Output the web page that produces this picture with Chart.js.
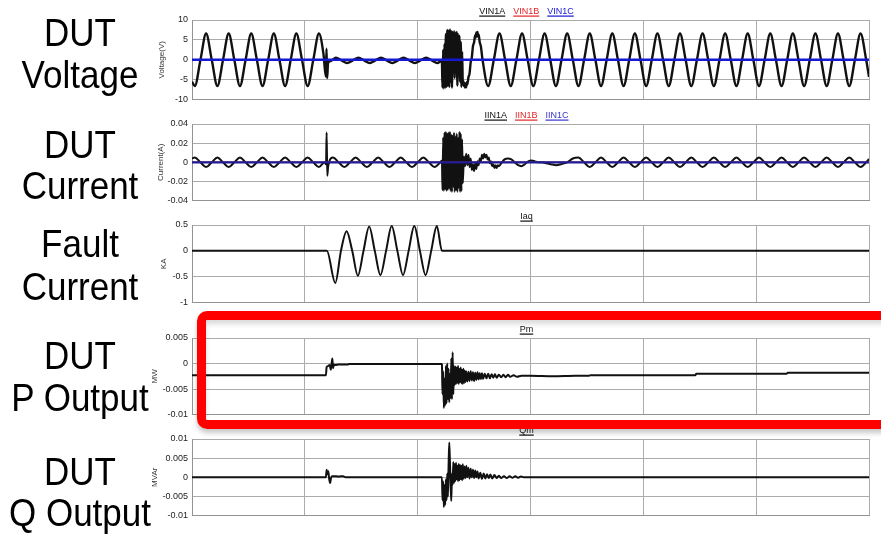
<!DOCTYPE html>
<html>
<head>
<meta charset="utf-8">
<script src="https://cdn.jsdelivr.net/npm/chart.js@4.4.1/dist/chart.umd.min.js"></script>
<style>
  html, body { margin: 0; padding: 0; }
  body { width: 881px; height: 534px; overflow: hidden; background: #fff; position: relative;
         font-family: "Liberation Sans", Arial, sans-serif; }
  .lbl { position: absolute; left: 0; width: 160px; text-align: center; font-size: 35px; line-height: 35px;
         color: #000; transform: scaleY(1.13); transform-origin: 50% 0; white-space: nowrap; }
  canvas { position: absolute; left: 150px; }
  #redBox { position: absolute; left: 197px; top: 311px; width: 720px; height: 100px;
            border: 9px solid #ff0000; border-radius: 10px;
            box-shadow: 0 4px 5px rgba(0,0,0,0.22), inset 0 4px 5px rgba(0,0,0,0.15); }
</style>
</head>
<body>
<div id="redBox"></div>
<script>
// time axis in ms, one grid division = 100 ms
const gridTimes = [0, 100, 200, 300, 400, 500, 600];
const voltTicks = [-10, -5, 0, 5, 10];
const currTicks = [-0.04, -0.02, 0, 0.02, 0.04];
const faultTicks = [-1, -0.5, 0, 0.5];
const pTicks = [-0.01, -0.005, 0, 0.005];
const qTicks = [-0.01, -0.005, 0, 0.005, 0.01];

const rowLabels = [["DUT", "Voltage"], ["DUT", "Current"], ["Fault", "Current"], ["DUT", "P Output"], ["DUT", "Q Output"]];

// DUT voltage, phase A [ms, V]
const vin1a = [[0,-5.5],[2.5,-6.6],[7.5,0],[12.5,6.6],[17.5,0],[22.5,-6.6],[27.5,0],[32.5,6.6],[37.5,0],[42.5,-6.6],[47.5,0],[52.5,6.6],[57.5,0],[62.5,-6.6],[67.5,0],[72.5,6.6],[77.5,0],[82.5,-6.6],[87.5,0],[92.5,6.6],[97.5,0],[102.5,-6.6],[107.5,0],[112.5,6.6],
  [116.5,1.5],[118.6,-4.2],[119.2,2.8],[119.8,-4.6],[120.6,-0.8],[123,-0.3],[127.5,0.5],[132.5,-0.15],[137.5,-0.8],[142.5,-0.15],[147.5,0.5],[152.5,-0.15],[157.5,-0.8],[162.5,-0.15],[167.5,0.5],[172.5,-0.15],[177.5,-0.8],[182.5,-0.15],[187.5,0.5],[192.5,-0.15],[197.5,-0.8],[202.5,-0.15],[207.5,0.5],[212.5,-0.15],[217.5,-0.8],[221,-0.3],
  [221.5,-0.5],[222,-7.0],[222.6,2.5],[223.2,-7.2],[223.8,4.0],[224.4,-7.0],[225,6.5],[225.6,-6.8],[226.2,7.5],[226.8,-6.5],[227.4,7.3],[228,-6.8],[228.6,7.6],[229.2,-5.5],[229.8,7.2],[230.4,-7.0],[231,7.0],[231.6,-2.0],[232.2,7.2],[232.8,-4.5],[233.4,6.8],[234,-1.0],[234.6,7.0],[235.2,-6.5],[235.8,6.5],[236.4,-3.0],[237,6.0],[237.6,-5.5],[238.2,4.5],[238.8,-6.8],[239.4,2.0],[240,-6.0],
  [240.5,-5.4],[241,-6.6],[241.5,-5.8],[242,-7.0],[242.5,-6.0],[243,-6.9],[243.5,-5.6],[244,-6.2],[245,-4.4],[246,-3.4],[247,-0.6],[248,0.6],[249,3.4],[250,4.4],[251,6.2],[251.5,5.6],[252,6.9],[252.5,6.0],[253,7.0],[253.5,5.8],[254,6.4],[255,4.4],[256,3.4],
  [257.5,0],[262.5,-6.6],[267.5,0],[272.5,6.6],[277.5,0],[282.5,-6.6],[287.5,0],[292.5,6.6],[297.5,0],[302.5,-6.6],[307.5,0],[312.5,6.6],[317.5,0],[322.5,-6.6],[327.5,0],[332.5,6.6],[337.5,0],[342.5,-6.6],[347.5,0],[352.5,6.6],[357.5,0],[362.5,-6.6],[367.5,0],[372.5,6.6],[377.5,0],[382.5,-6.6],[387.5,0],[392.5,6.6],[397.5,0],[402.5,-6.6],[407.5,0],[412.5,6.6],[417.5,0],[422.5,-6.6],[427.5,0],[432.5,6.6],[437.5,0],[442.5,-6.6],[447.5,0],[452.5,6.6],[457.5,0],[462.5,-6.6],[467.5,0],[472.5,6.6],[477.5,0],[482.5,-6.6],[487.5,0],[492.5,6.6],[497.5,0],[502.5,-6.6],[507.5,0],[512.5,6.6],[517.5,0],[522.5,-6.6],[527.5,0],[532.5,6.6],[537.5,0],[542.5,-6.6],[547.5,0],[552.5,6.6],[557.5,0],[562.5,-6.6],[567.5,0],[572.5,6.6],[577.5,0],[582.5,-6.6],[587.5,0],[592.5,6.6],[597.5,0],[600,-4.3]];
const vin1b = [[0,0],[600,0]];
const vin1c = [[0,0],[600,0]];

// DUT current, phase A [ms, A]
const iin1a = [[0,0.004],[2.5,0.005],[7.5,0],[12.5,-0.005],[17.5,0],[22.5,0.005],[27.5,0],[32.5,-0.005],[37.5,0],[42.5,0.005],[47.5,0],[52.5,-0.005],[57.5,0],[62.5,0.005],[67.5,0],[72.5,-0.005],[77.5,0],[82.5,0.005],[87.5,0],[92.5,-0.005],[97.5,0],[102.5,0.005],[107.5,0],[112.5,-0.005],[117.5,0],
  [118.8,-0.002],[119.3,0.031],[119.9,-0.014],[120.7,-0.004],[125,0.005],[130,0],[135,-0.005],[140,0],[145,0.005],[150,0],[155,-0.005],[160,0],[165,0.005],[170,0],[175,-0.005],[180,0],[185,0.005],[190,0],[195,-0.005],[200,0],[205,0.005],[210,0],[215,-0.005],[220,0],
  [221.5,0.002],[222,-0.029],[222.6,0.026],[223.2,-0.030],[223.8,0.031],[224.4,-0.028],[225,0.032],[225.6,-0.030],[226.2,0.030],[226.8,-0.029],[227.4,0.031],[228,-0.027],[228.6,0.032],[229.2,-0.030],[229.8,0.029],[230.4,-0.031],[231,0.028],[231.6,-0.026],[232.2,0.031],[232.8,-0.031],[233.4,0.027],[234,-0.029],[234.6,0.030],[235.2,-0.031],[235.8,0.026],[236.4,-0.027],[237,0.032],[237.6,-0.031],[238.2,0.030],[238.8,-0.030],[239.4,0.024],[240,-0.022],
  [241,0.006],[242,-0.004],[243,0.009],[244,-0.003],[245,0.008],[246,-0.005],[247,0.004],[248,-0.008],[249,-0.002],[250,-0.009],[251,-0.001],[252,-0.007],[253,0.001],[254,-0.003],[255,0.004],[256,0.001],[257,0.008],[258,0.004],[259,0.009],[260,0.005],[261,0.008],[262,0.003],[263,0.005],[264,-0.001],[265,0.001],[266,-0.004],[267,-0.002],[268,-0.006],[269,-0.003],[270,-0.006],[271,-0.003],[272,-0.004],
  [274,-0.001],[277,0.003],[280,0.004],[283,0.003],[286,0],[289,-0.003],[292,-0.004],[295,-0.002],[298,0.001],[301,0.002],[304,0.001],[307,0],[310,0],[314,-0.001],[318,-0.002],[323,-0.003],[327,-0.002],[332.5,0],[337.5,0.004],
  [342.5,0.005],[347.5,0],[352.5,-0.005],[357.5,0],[362.5,0.005],[367.5,0],[372.5,-0.005],[377.5,0],[382.5,0.005],[387.5,0],[392.5,-0.005],[397.5,0],[402.5,0.005],[407.5,0],[412.5,-0.005],[417.5,0],[422.5,0.005],[427.5,0],[432.5,-0.005],[437.5,0],[442.5,0.005],[447.5,0],[452.5,-0.005],[457.5,0],[462.5,0.005],[467.5,0],[472.5,-0.005],[477.5,0],[482.5,0.005],[487.5,0],[492.5,-0.005],[497.5,0],[502.5,0.005],[507.5,0],[512.5,-0.005],[517.5,0],[522.5,0.005],[527.5,0],[532.5,-0.005],[537.5,0],[542.5,0.005],[547.5,0],[552.5,-0.005],[557.5,0],[562.5,0.005],[567.5,0],[572.5,-0.005],[577.5,0],[582.5,0.005],[587.5,0],[592.5,-0.005],[597.5,0],[600,0.0035]];
const iin1b = [[0,0],[600,0]];
const iin1c = [[0,0],[600,0]];

// fault current [ms, kA]
const iaq = [[0,0],[119.5,0],[127,-0.62],[132,0],[137,0.38],[142,0],[147,-0.48],[152,0],[157,0.47],[162,0],[167,-0.47],[172,0],[177,0.48],[182,0],[187,-0.47],[192,0],[197,0.48],[202,0],[207,-0.47],[212,0],[217,0.48],[221.5,0],[600,0]];

// active power [ms, MW]
const pm = [[0,-0.0023],[118.7,-0.0023],[119.3,-0.0007],[120.5,-0.0005],[122,-0.0003],[123,-0.0012],[123.8,0.0001],[124.4,0.0010],[125,-0.0009],[125.8,-0.0002],[127,-0.0003],[130,-0.0002],[138,-0.0002],[139,-0.0001],[221,-0.0001],
  [221.5,-0.0002],[222,-0.0060],[222.6,-0.0015],[223.2,-0.0087],[223.8,-0.0030],[224.4,-0.0082],[225,-0.0005],[225.6,-0.0078],[226.2,0],[226.8,-0.0070],[227.4,-0.0010],[228,-0.0076],[228.6,-0.0020],[229.2,-0.0068],[229.8,0.0010],[230.4,-0.0070],[231,0.0022],[231.6,-0.0060],[232.2,-0.0005],[232.8,-0.0042],[233.4,-0.0006],[234,-0.0040],[234.6,-0.0008],[235.2,-0.0038],[235.8,-0.0005],[236.4,-0.0040],[237,-0.0010],[237.6,-0.0036],[238.2,-0.0008],[238.8,-0.0039],[239.4,-0.0012],[240,-0.0040],[240.6,-0.0010],[241.2,-0.0038],[241.8,-0.0014],[242.4,-0.0036],[243,-0.0015],
  [244,-0.0035],[245,-0.0016],[246,-0.0034],[247,-0.0015],[248,-0.0033],[249,-0.0017],[250,-0.0034],[251,-0.0018],[252,-0.0032],[253,-0.0017],[254,-0.0031],[255,-0.0019],[256,-0.0030],[257,-0.0019],[258,-0.0030],[259.5,-0.0020],[261,-0.0029],[262.5,-0.0020],[264,-0.0029],[265.5,-0.0021],[267,-0.0028],[268.5,-0.0021],[270,-0.0028],[272,-0.0022],[274,-0.0027],[276,-0.0022],[278,-0.0027],[280,-0.0022],[282,-0.0026],[285,-0.0023],[288,-0.0026],[292,-0.0024],[300,-0.0024],[320,-0.0025],[340,-0.0024],[352,-0.0024],[353,-0.0023],[446,-0.0023],[447,-0.0020],[527,-0.0020],[528,-0.0018],[600,-0.0018]];

// reactive power [ms, MVAr]
const qm = [[0,0],[118.7,0],[119.3,0.0020],[120,0.0008],[120.8,0.0016],[121.6,-0.0005],[122.4,-0.0015],[123.2,-0.0002],[124,0.0003],[126,0.0003],[130,0.0002],[134,0.0003],[136,0],[221,0],
  [221.5,0],[222,-0.0060],[222.6,-0.0010],[223.2,-0.0078],[223.8,-0.0020],[224.4,-0.0072],[225,-0.0005],[225.6,-0.0060],[226.2,0.0010],[226.8,-0.0050],[227.4,0.0030],[228,0.0091],[228.6,0.0040],[229.2,-0.0020],[229.8,-0.0062],[230.4,0.0010],[231,-0.0020],[231.6,0.0040],[232.2,-0.0015],[232.8,0.0035],[233.4,-0.0010],[234,0.0038],[234.6,-0.0005],[235.2,0.0030],[235.8,-0.0010],[236.4,0.0035],[237,-0.0008],[237.6,0.0032],[238.2,-0.0005],[238.8,0.0030],[239.4,-0.0008],[240,0.0034],
  [240.8,-0.0004],[241.6,0.0028],[242.4,-0.0002],[243.2,0.0030],[244,0],[245,0.0025],[246,-0.0003],[247,0.0022],[248,0],[249,0.0020],[250,-0.0002],[251,0.0018],[252,0],[253,0.0015],[254,-0.0003],[255.5,0.0012],[257,-0.0004],[258.5,0.0010],[260,-0.0003],[261.5,0.0008],[263,-0.0002],[264.5,0.0007],[266,-0.0003],[268,0.0006],[270,-0.0002],[272,0.0004],[274,-0.0002],[276.5,0.0003],[279,-0.0002],[281.5,0.0003],[284,-0.0001],[286.5,0.0003],[289,-0.0001],[291.5,0.0002],[294,0],[600,0]];

Chart.defaults.font.family = '"Liberation Sans", Arial, sans-serif';

// left row labels (one div per line)
const labelTops = [[12, 54], [124, 165], [223, 266], [335, 377], [451, 492]];
rowLabels.forEach((pair, r) => {
    pair.forEach((txt, k) => {
        const d = document.createElement("div");
        d.className = "lbl";
        d.style.top = labelTops[r][k] + "px";
        d.textContent = txt;
        document.body.appendChild(d);
    });
});

// underlined series names above each panel
const seriesTitles = {
    id: "seriesTitles",
    afterDraw(chart) {
        const { ctx, chartArea } = chart;
        const sets = chart.data.datasets;
        ctx.save();
        ctx.font = '9px "Liberation Sans", Arial, sans-serif';
        ctx.textBaseline = "alphabetic";
        const gap = 8;
        const widths = sets.map(d => ctx.measureText(d.label).width);
        const total = widths.reduce((a, b) => a + b, 0) + gap * (sets.length - 1);
        let x = (chartArea.left + chartArea.right) / 2 - 4 - total / 2;
        const y = chartArea.top - 6;
        sets.forEach((d, i) => {
            ctx.fillStyle = d.titleColor;
            ctx.fillText(d.label, x, y);
            ctx.fillRect(x, y + 1.5, widths[i], 1.2);
            x += widths[i] + gap;
        });
        ctx.restore();
    }
};

function makePanel(p) {
    const cv = document.createElement("canvas");
    cv.width = 731;
    cv.height = p.bottom - p.top + 24;
    cv.style.top = (p.top - 16) + "px";
    document.body.insertBefore(cv, document.getElementById("redBox"));

    const n = p.series.length;
    return new Chart(cv, {
        type: "line",
        data: {
            datasets: p.series.map((s, i) => ({
                label: s.label,
                data: s.data,
                borderColor: s.color,
                titleColor: s.titleColor || s.color,
                borderWidth: s.width,
                order: n - 1 - i,
                pointRadius: 0,
                cubicInterpolationMode: "monotone"
            }))
        },
        options: {
            responsive: false,
            animation: false,
            events: [],
            layout: { autoPadding: false, padding: { top: 16, right: 12, bottom: 8, left: 0 } },
            plugins: { legend: { display: false }, tooltip: { enabled: false } },
            scales: {
                x: {
                    type: "linear", min: 0, max: 600,
                    ticks: { display: false },
                    grid: { color: "#ababab", drawTicks: false },
                    border: { color: "#939393" },
                    afterBuildTicks: s => { s.ticks = gridTimes.map(v => ({ value: v })); },
                    afterFit: s => { s.height = 0; }
                },
                y: {
                    min: p.ticks[0], max: p.ticks[p.ticks.length - 1],
                    ticks: { callback: v => String(v), font: { size: 9 }, color: "#222", padding: 4 },
                    grid: { color: "#ababab", drawTicks: false },
                    border: { color: "#939393" },
                    title: { display: true, text: p.unit, font: { size: 8 }, color: "#333", padding: { top: p.titlePad, bottom: 0 } },
                    afterBuildTicks: s => { s.ticks = p.ticks.map(v => ({ value: v })); },
                    afterFit: s => { s.width = 42; }
                }
            }
        },
        plugins: [seriesTitles]
    });
}

makePanel({ top: 20, bottom: 101, ticks: voltTicks, unit: "Voltage(V)", titlePad: 7, series: [
    { label: "VIN1A", data: vin1a, color: "#111", width: 2.4 },
    { label: "VIN1B", data: vin1b, color: "#e52525", width: 1.5 },
    { label: "VIN1C", data: vin1c, color: "#1717d6", width: 2.6 }
] });
makePanel({ top: 124, bottom: 202, ticks: currTicks, unit: "Current(A)", titlePad: 6, series: [
    { label: "IIN1A", data: iin1a, color: "#111", width: 2 },
    { label: "IIN1B", data: iin1b, color: "#e52525", width: 1.5 },
    { label: "IIN1C", data: iin1c, color: "#1d1d9a", width: 2.2, titleColor: "#3535c8" }
] });
makePanel({ top: 225, bottom: 304, ticks: faultTicks, unit: "KA", titlePad: 9, series: [
    { label: "Iaq", data: iaq, color: "#111", width: 2 }
] });
makePanel({ top: 338, bottom: 416, ticks: pTicks, unit: "MW", titlePad: 0, series: [
    { label: "Pm", data: pm, color: "#111", width: 2 }
] });
makePanel({ top: 439, bottom: 517, ticks: qTicks, unit: "MVAr", titlePad: 0, series: [
    { label: "Qm", data: qm, color: "#111", width: 2 }
] });
</script>
</body>
</html>
